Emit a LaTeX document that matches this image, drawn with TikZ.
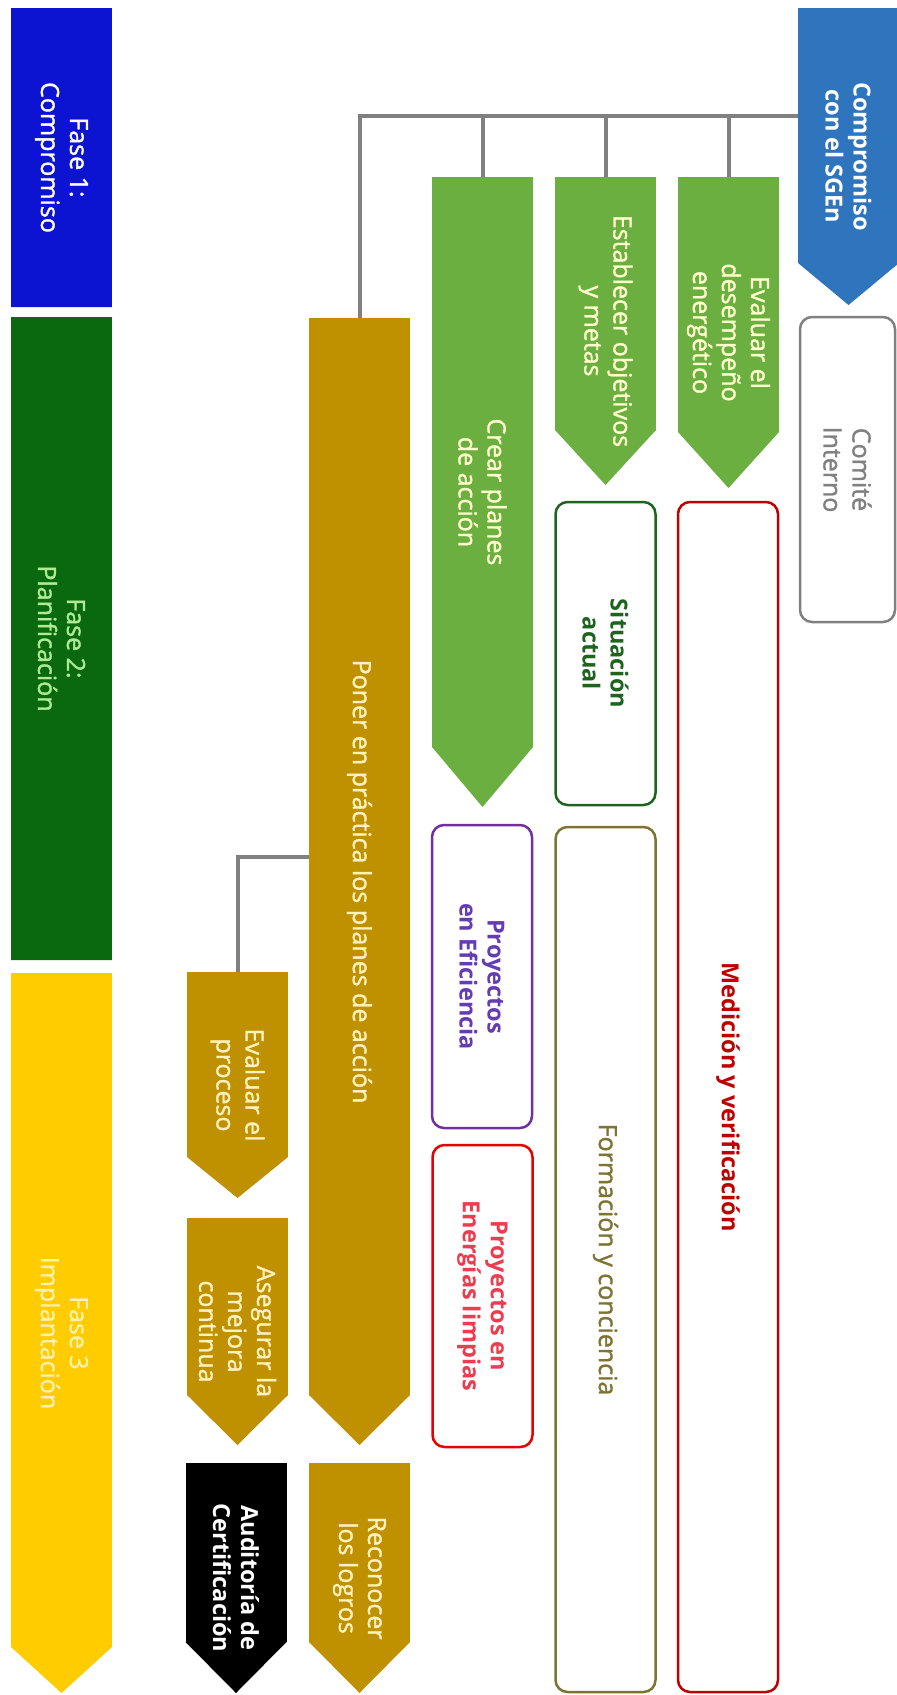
\documentclass[tikz,border=0pt]{standalone}
\usepackage{fontspec}
\setmainfont{Open Sans}
\newfontfamily\semi{Open Sans}[BoldFont={Open Sans},BoldFeatures={FakeBold=1.3}]
\usepackage{xcolor}
\usepackage{tikz}
\usetikzlibrary{positioning}

\definecolor{faseA}{RGB}{12,20,210}
\definecolor{faseB}{RGB}{10,105,15}
\definecolor{faseC}{RGB}{255,204,0}
\definecolor{azul}{RGB}{46,117,190}
\definecolor{verde}{RGB}{108,175,65}
\definecolor{oro}{RGB}{191,144,0}
\definecolor{textoB}{RGB}{175,235,150}
\definecolor{textoC}{RGB}{255,240,170}
\definecolor{textoV}{RGB}{255,255,205}
\definecolor{textoO}{RGB}{255,242,190}
\definecolor{gris}{RGB}{128,128,128}
\definecolor{rojo}{RGB}{192,0,0}
\definecolor{verdeO}{RGB}{30,100,30}
\definecolor{oliva}{RGB}{125,115,50}
\definecolor{morado}{RGB}{112,48,160}
\definecolor{moradoT}{RGB}{100,60,180}
\definecolor{rojoB}{RGB}{230,0,0}
\definecolor{rojoT}{RGB}{235,60,80}

\begin{document}
\begin{tikzpicture}[x=1pt,y=-1pt,
    cuerpo/.style={rectangle,inner sep=0pt,outer sep=0pt,minimum width=101pt},
    rotulo/.style={rotate=-90,align=center,inner sep=0pt,font=\fontsize{25}{29}\selectfont\semi\bfseries},
    negrita/.style={font=\fontsize{23.5}{28}\selectfont\bfseries},
    fino/.style={},
    caja/.style={rectangle,rounded corners=12pt,draw,line width=2.5pt,fill=white,
        rotate=-90,align=center,inner sep=0pt,font=\fontsize{25}{29}\selectfont\semi\bfseries},
    linea/.style={draw=gris,line width=4pt}]
    \useasboundingbox (0,0) rectangle (897,1695);
    
    % flechas (cuerpo + punta)
    \foreach \n/\x/\ya/\yb/\p/\c/\tc/\f/\t in {
        fase1/61.5/8/307/0/faseA/white/fino/{Fase 1:\\Compromiso},
        fase2/61.5/317/960/0/faseB/textoB/fino/{Fase 2:\\Planificación},
        fase3/61.5/973/1647/46/faseC/textoC/fino/{Fase 3\\Implantación},
        comp/848.5/8/263/42/azul/white/negrita/{Compromiso\\con el SGEn},
        eval/728.5/177/432/56/verde/textoV/fino/{Evaluar el\\desempeño\\energético},
        estab/605.5/177/430/55/verde/textoV/fino/{Establecer objetivos\\y metas},
        crear/482.5/177/747/60/verde/textoV/fino/{Crear planes\\de acción},
        poner/359.5/318/1395/50/oro/textoO/fino/{Poner en práctica los planes de acción},
        evalP/237.5/972/1157/41/oro/textoO/fino/{Evaluar el\\proceso},
        aseg/237.5/1218/1395/50/oro/textoO/fino/{Asegurar la\\mejora\\continua},
        audit/236/1463/1642/51/black/white/negrita/{Auditoría de\\Certificación},
        recon/359.5/1463/1642/51/oro/textoO/fino/{Reconocer\\los logros}}{
        \node[cuerpo,fill=\c,minimum height={\yb-\ya}] (\n) at (\x,{(\ya+\yb)/2}) {};
        \fill[\c] (\n.south west) -- (\n.south east) -- ([yshift=-\p]\n.south) -- cycle;
        \node[rotulo,text=\tc,\f] (\n-t) at ([yshift={-\p/2}]\n.center) {\t};
    }
    
    % cajas redondeadas
    \foreach \n/\x/\ya/\yb/\w/\c/\tc/\f/\t in {
        comite/847.5/317/622/95/gris/gris/fino/{Comité\\Interno},
        medic/728/502/1692/100/rojo/rojo/negrita/{Medición y verificación},
        situ/605.5/502/805/100/verdeO/verdeO/negrita/{Situación\\actual},
        form/605.5/827/1692/100/oliva/oliva/fino/{Formación y conciencia},
        proyEf/482/825/1128/100/morado/moradoT/negrita/{Proyectos\\en Eficiencia},
        proyEn/482.5/1145/1447/100/rojoB/rojoT/negrita/{Proyectos en\\Energías limpias}}{
        \node[caja,draw=\c,text=\tc,\f,minimum width={\yb-\ya},minimum height=\w] (\n) at (\x,{(\ya+\yb)/2}) {\t};
    }
    
    % conectores
    \coordinate (bus) at ([yshift=20]comp.west);
    \draw[linea] (bus) -| (poner.north);
    \foreach \b in {eval,estab,crear}{
        \draw[linea] (\b.north) -- (\b.north |- bus);}
    \draw[linea] (poner.west) -| (evalP.north);
\end{tikzpicture}
\end{document}
